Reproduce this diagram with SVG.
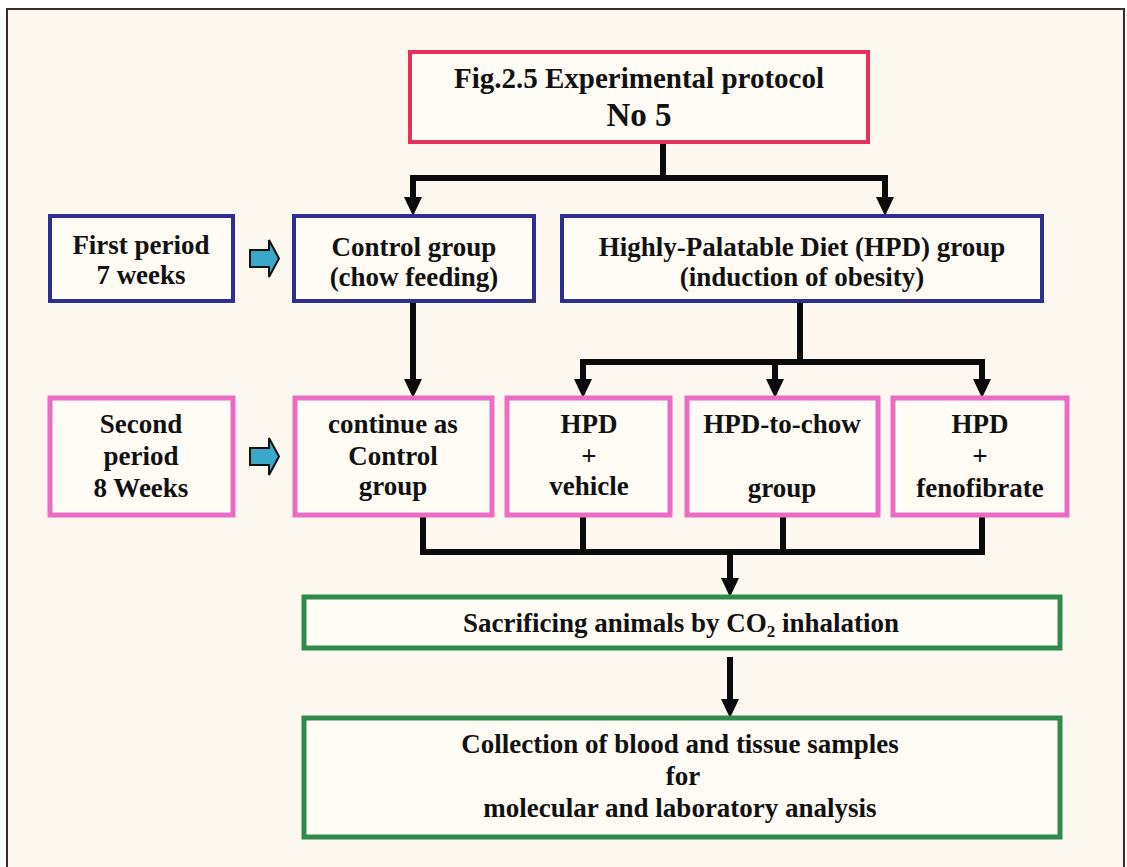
<svg xmlns="http://www.w3.org/2000/svg" width="1127" height="867" viewBox="0 0 1127 867">
  <style>
    text { font-family: "Liberation Serif", "Times New Roman", serif; font-weight: bold; fill: #111; text-anchor: middle; }
    .t { font-size: 27px; }
    .box { fill: #fffcf6; }
    .red { stroke: #e8315a; stroke-width: 4; }
    .blue { stroke: #2e2f94; stroke-width: 4; }
    .pink { stroke: #ea6cc4; stroke-width: 5; }
    .green { stroke: #2f8a4c; stroke-width: 5; }
    .wire { fill: none; stroke: #0a0a0a; stroke-width: 6; stroke-linejoin: miter; }
    .cyan { fill: #3aa9c9; stroke: #111; stroke-width: 2; stroke-linejoin: miter; }
  </style>
  <defs>
    <!-- arrowhead: base sits at the path end, tip extends 19px beyond -->
    <marker id="ah" viewBox="0 0 19 18" refX="0" refY="9" markerWidth="19" markerHeight="18" markerUnits="userSpaceOnUse" orient="auto">
      <path d="M0,0 L19,9 L0,18 Z" fill="#0a0a0a"/>
    </marker>
  </defs>

  <!-- page -->
  <rect x="0" y="0" width="1127" height="867" fill="#ffffff"/>
  <rect x="7" y="9" width="1117" height="870" fill="#fdf8ef" stroke="#3a2a2a" stroke-width="2"/>

  <!-- connectors -->
  <g id="connectors">
    <path class="wire" d="M663,143 V178"/>
    <path class="wire" d="M410,178 H888"/>
    <path class="wire" d="M413,175 V197" marker-end="url(#ah)"/>
    <path class="wire" d="M885,175 V197" marker-end="url(#ah)"/>
    <path class="wire" d="M413,302 V379" marker-end="url(#ah)"/>
    <path class="wire" d="M800,302 V362"/>
    <path class="wire" d="M580,362 H985"/>
    <path class="wire" d="M583,359 V379" marker-end="url(#ah)"/>
    <path class="wire" d="M775,359 V379" marker-end="url(#ah)"/>
    <path class="wire" d="M982,359 V379" marker-end="url(#ah)"/>
    <path class="wire" d="M423,515 V552 H982 V515"/>
    <path class="wire" d="M583,515 V552"/>
    <path class="wire" d="M783,515 V552"/>
    <path class="wire" d="M730,552 V578" marker-end="url(#ah)"/>
    <path class="wire" d="M730,657 V699" marker-end="url(#ah)"/>
  </g>

  <!-- title -->
  <g id="title">
    <rect class="box red" x="410" y="52" width="458" height="90"/>
    <text x="639" y="88" style="font-size:29px">Fig.2.5 Experimental protocol</text>
    <text x="639" y="126" style="font-size:33px">No 5</text>
  </g>

  <!-- first period row -->
  <g id="first-period">
    <rect class="box blue" x="50" y="216" width="183" height="85"/>
    <text class="t" x="141" y="254">First period</text>
    <text class="t" x="141" y="284">7 weeks</text>
  </g>
  <g id="arrow-first">
    <path class="cyan" d="M250,250 H269 V240 L279,258.5 L269,277 V267 H250 Z"/>
  </g>
  <g id="control-group">
    <rect class="box blue" x="294" y="216" width="240" height="85"/>
    <text class="t" x="414" y="256">Control group</text>
    <text class="t" x="414" y="286">(chow feeding)</text>
  </g>
  <g id="hpd-group">
    <rect class="box blue" x="562" y="216" width="480" height="85"/>
    <text class="t" x="802" y="256">Highly-Palatable Diet (HPD) group</text>
    <text class="t" x="802" y="286">(induction of obesity)</text>
  </g>

  <!-- second period row -->
  <g id="second-period">
    <rect class="box pink" x="50" y="398" width="183" height="117"/>
    <text class="t" x="141" y="433">Second</text>
    <text class="t" x="141" y="465">period</text>
    <text class="t" x="141" y="497">8 Weeks</text>
  </g>
  <g id="arrow-second">
    <path class="cyan" d="M250,448 H269 V438 L279,456.5 L269,475 V465 H250 Z"/>
  </g>
  <g id="continue-control">
    <rect class="box pink" x="295" y="398" width="197" height="117"/>
    <text class="t" x="393" y="433">continue as</text>
    <text class="t" x="393" y="465">Control</text>
    <text class="t" x="393" y="495">group</text>
  </g>
  <g id="hpd-vehicle">
    <rect class="box pink" x="507" y="398" width="163" height="117"/>
    <text class="t" x="589" y="433">HPD</text>
    <text class="t" x="589" y="465">+</text>
    <text class="t" x="589" y="495">vehicle</text>
  </g>
  <g id="hpd-to-chow">
    <rect class="box pink" x="687" y="398" width="191" height="117"/>
    <text class="t" x="782" y="433">HPD-to-chow</text>
    <text class="t" x="782" y="497">group</text>
  </g>
  <g id="hpd-fenofibrate">
    <rect class="box pink" x="893" y="398" width="174" height="117"/>
    <text class="t" x="980" y="433">HPD</text>
    <text class="t" x="980" y="465">+</text>
    <text class="t" x="980" y="497">fenofibrate</text>
  </g>

  <!-- end of protocol -->
  <g id="sacrifice">
    <rect class="box green" x="304" y="597" width="756" height="51"/>
    <text class="t" x="681" y="632">Sacrificing animals by CO<tspan style="font-size:17px" dy="5">2</tspan><tspan dy="-5"> inhalation</tspan></text>
  </g>
  <g id="collection">
    <rect class="box green" x="304" y="718" width="756" height="119"/>
    <text class="t" x="680" y="753">Collection of blood and tissue samples</text>
    <text class="t" x="683" y="785">for</text>
    <text class="t" x="680" y="817">molecular and laboratory analysis</text>
  </g>
</svg>
